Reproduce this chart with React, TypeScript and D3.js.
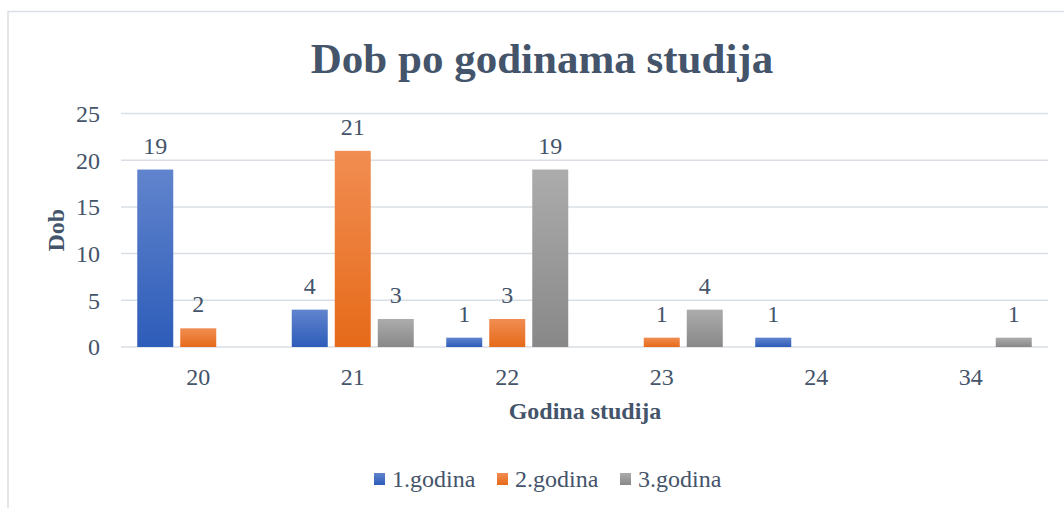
import React from 'react';
import * as d3 from 'd3';

// years of age on the x axis
const categories = ['20', '21', '22', '23', '24', '34'];
const seriesNames = ['1.godina', '2.godina', '3.godina'];
const godina1 = [19, 4, 1, 0, 1, 0];
const godina2 = [2, 21, 3, 1, 0, 0];
const godina3 = [0, 3, 19, 4, 0, 1];
const yTicks = [0, 5, 10, 15, 20, 25];

const seriesValues = [godina1, godina2, godina3];
const gradients = [
  ['#6184cd', '#2d5cb9'],
  ['#f18d52', '#e66a19'],
  ['#acacac', '#888888']
];

const W = 1064,
  H = 508;
const textColor = '#44546a';
const gridColor = '#dadfe5';
const font = '"Liberation Serif", "Times New Roman", serif';

export default function App() {
  const plot = { left: 121, right: 1048, top: 113.5, bottom: 347 };

  const x = d3
    .scaleBand()
    .domain(categories)
    .range([plot.left, plot.right])
    .paddingInner(0)
    .paddingOuter(0);

  const groupW = 122;
  const inner = d3
    .scaleBand()
    .domain(seriesNames)
    .range([0, groupW])
    .paddingInner(7 / 43)
    .paddingOuter(0);

  const y = d3
    .scaleLinear()
    .domain([0, 25])
    .range([plot.bottom, plot.top]);

  return (
    <svg width={W} height={H} style={{ position: 'absolute', left: 0, top: 0 }} fontFamily={font}>
      <defs>
        {gradients.map((g, i) => (
          <linearGradient key={i} id={'grad' + i} x1="0" y1="0" x2="0" y2="1">
            <stop offset="0%" stopColor={g[0]} />
            <stop offset="100%" stopColor={g[1]} />
          </linearGradient>
        ))}
      </defs>
      <rect x={0} y={0} width={W} height={H} fill="#fff" />
      {/* frame */}
      <path d={`M 8 ${H} L 8 11.5 L ${W} 11.5`} fill="none" stroke={gridColor} strokeWidth={1.5} />

      <text x={542} y={73} textAnchor="middle" fontSize={43} fontWeight="bold" fill={textColor}>
        Dob po godinama studija
      </text>

      {/* grid + y ticks */}
      {yTicks.map(t => (
        <g key={t}>
          <line x1={plot.left} x2={plot.right} y1={y(t)} y2={y(t)} stroke={gridColor} strokeWidth={1.5} />
          <text x={100} y={y(t)} dy="0.35em" textAnchor="end" fontSize={24} fill={textColor}>
            {t}
          </text>
        </g>
      ))}

      {/* bars */}
      {categories.map((c, ci) => {
        const gx = x(c) + x.bandwidth() / 2 - groupW / 2;
        return (
          <g key={c}>
            {seriesNames.map((s, si) => {
              const v = seriesValues[si][ci];
              if (!v) return null;
              const bx = gx + inner(s);
              return (
                <g key={s}>
                  <rect
                    x={bx}
                    y={y(v)}
                    width={inner.bandwidth()}
                    height={y(0) - y(v)}
                    fill={`url(#grad${si})`}
                  />
                  <text
                    x={bx + inner.bandwidth() / 2}
                    y={y(v) - 16}
                    textAnchor="middle"
                    fontSize={24}
                    fill={textColor}
                  >
                    {v}
                  </text>
                </g>
              );
            })}
            <text x={x(c) + x.bandwidth() / 2} y={385} textAnchor="middle" fontSize={24} fill={textColor}>
              {c}
            </text>
          </g>
        );
      })}

      {/* axis titles */}
      <text x={585} y={419} textAnchor="middle" fontSize={24} fontWeight="bold" fill={textColor}>
        Godina studija
      </text>
      <text
        transform={`translate(64, ${(plot.top + plot.bottom) / 2}) rotate(-90)`}
        textAnchor="middle"
        fontSize={24}
        fontWeight="bold"
        fill={textColor}
      >
        Dob
      </text>

      {/* legend */}
      {seriesNames.map((s, i) => {
        const lx = [374, 497, 620][i];
        return (
          <g key={s}>
            <rect x={lx} y={473} width={11} height={12} fill={`url(#grad${i})`} />
            <text x={lx + 18} y={487} fontSize={24} fill={textColor}>
              {s}
            </text>
          </g>
        );
      })}
    </svg>
  );
}
